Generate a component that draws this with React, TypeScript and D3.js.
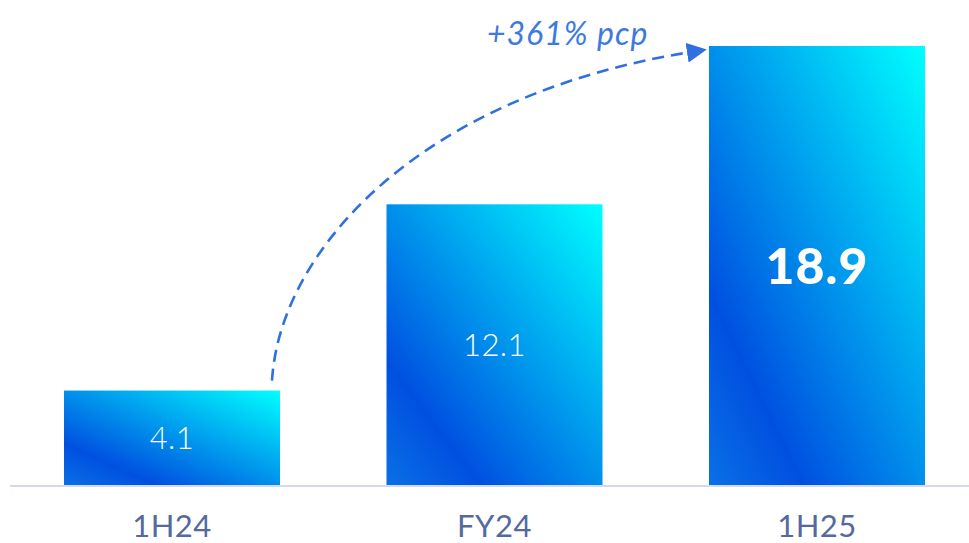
import React from "react";
import * as d3 from "d3";

const categories = ["1H24", "FY24", "1H25"];
const values = [4.1, 12.1, 18.9];
const valueLabels = ["4.1", "12.1", "18.9"];
const boldFlags = [false, false, true];
const annotation = "+361% pcp";

const W = 969;
const H = 543;

export default function App() {
  const x = d3
    .scaleBand<string>()
    .domain(categories)
    .range([64, 925])
    .paddingInner(0.3302)
    .paddingOuter(0);
  const y = d3.scaleLinear().domain([0, 18.9]).range([486, 46]);

  const startX = (x("1H24") as number) + x.bandwidth() - 8;
  const startY = y(4.1) - 10;
  const endX = (x("1H25") as number) - 18;
  const endY = y(18.9) + 6;
  const path = d3.path();
  path.moveTo(startX, startY);
  path.bezierCurveTo(startX + 8, 250, 420, 95, endX, endY);

  const font = "Lato, 'Open Sans', sans-serif";

  return (
    <svg
      width={W}
      height={H}
      style={{ position: "absolute", left: 0, top: 0, display: "block" }}
    >
      <defs>
        <linearGradient id="barGrad" x1="0" y1="1" x2="1" y2="0">
          <stop offset="0" stopColor="#0a70e6" />
          <stop offset="0.22" stopColor="#0050e0" />
          <stop offset="1" stopColor="#00ffff" />
        </linearGradient>
        <marker
          id="arrowHead"
          viewBox="0 0 10 10"
          refX="2"
          refY="5"
          markerWidth="20"
          markerHeight="20"
          markerUnits="userSpaceOnUse"
          orient="auto"
        >
          <path d="M0,0 L10,5 L0,10 Z" fill="#2f6fe0" />
        </marker>
      </defs>
      <rect width={W} height={H} fill="#ffffff" />
      {categories.map((c, i) => (
        <rect
          key={c}
          x={x(c)}
          y={y(values[i])}
          width={x.bandwidth()}
          height={y(0) - y(values[i])}
          fill="url(#barGrad)"
        />
      ))}
      <line x1={10} x2={969} y1={y(0)} y2={y(0)} stroke="#d5d9ea" strokeWidth={2} />
      {categories.map((c, i) => (
        <text
          key={c + "v"}
          x={(x(c) as number) + x.bandwidth() / 2}
          y={(y(values[i]) + y(0)) / 2}
          dy="0.36em"
          textAnchor="middle"
          fill="#ffffff"
          fontFamily={font}
          fontWeight={boldFlags[i] ? 900 : 300}
          fontSize={boldFlags[i] ? 50 : 31}
          letterSpacing={boldFlags[i] ? 1 : 0.5}
        >
          {valueLabels[i]}
        </text>
      ))}
      {categories.map((c) => (
        <text
          key={c + "t"}
          x={(x(c) as number) + x.bandwidth() / 2}
          y={537}
          textAnchor="middle"
          fill="#55699e"
          fontFamily={font}
          fontWeight={400}
          fontSize={31}
          letterSpacing={0.5}
        >
          {c}
        </text>
      ))}
      <path
        d={path.toString()}
        fill="none"
        stroke="#2f6fe0"
        strokeWidth={2.6}
        strokeDasharray="12 7"
        markerEnd="url(#arrowHead)"
      />
      <text
        x={487}
        y={45}
        fill="#3d7ae0"
        fontFamily={font}
        fontStyle="italic"
        fontWeight={400}
        fontSize={32}
        letterSpacing={1}
      >
        {annotation}
      </text>
    </svg>
  );
}
